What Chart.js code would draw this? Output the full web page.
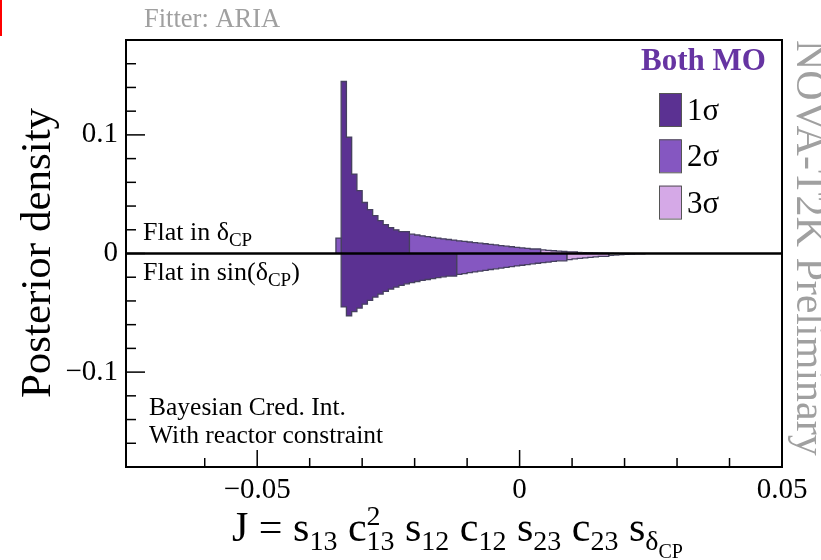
<!DOCTYPE html>
<html>
<head>
<meta charset="utf-8">
<script src="https://cdn.jsdelivr.net/npm/chart.js@4.4.0/dist/chart.umd.min.js"></script>
<style>
  html, body { margin: 0; padding: 0; background: #fff; }
  #wrap { position: relative; width: 821px; height: 560px; }
</style>
</head>
<body>
<div id="wrap"><canvas id="chart" width="821" height="560"></canvas></div>
<script>
// bin left edges (bin width 0.001)
const binLow = [
  -0.035, -0.034, -0.033, -0.032, -0.031, -0.030, -0.029, -0.028, -0.027, -0.026,
  -0.025, -0.024, -0.023, -0.022, -0.021, -0.020, -0.019, -0.018, -0.017, -0.016,
  -0.015, -0.014, -0.013, -0.012, -0.011, -0.010, -0.009, -0.008, -0.007, -0.006,
  -0.005, -0.004, -0.003, -0.002, -0.001, 0.000, 0.001, 0.002, 0.003, 0.004,
  0.005, 0.006, 0.007, 0.008, 0.009, 0.010, 0.011, 0.012, 0.013, 0.014,
  0.015, 0.016, 0.017, 0.018, 0.019, 0.020, 0.021, 0.022, 0.023
];

// posterior density, prior flat in deltaCP (drawn upwards)
const flatInDeltaCP = [
  0.013, 0.098, 0.145, 0.098, 0.067, 0.053, 0.043, 0.037, 0.032, 0.0277,
  0.0244, 0.0218, 0.0200, 0.0184, 0.0171, 0.0163, 0.0156, 0.0149, 0.0142, 0.0136,
  0.0130, 0.0124, 0.0118, 0.0113, 0.0107, 0.0102, 0.0097, 0.0092, 0.0087, 0.0082,
  0.0077, 0.0072, 0.0067, 0.0062, 0.0057, 0.0052, 0.0047, 0.0043, 0.0038, 0.0034,
  0.0030, 0.0026, 0.0023, 0.0020, 0.0017, 0.0014, 0.0012, 0.0010, 0.0008, 0.0007,
  0.0006, 0.0005, 0.0004, 0.0003, 0.0002, 0.0001, 0, 0, 0
];

// posterior density, prior flat in sin(deltaCP) (drawn downwards)
const flatInSinDeltaCP = [
  0, -0.0197, -0.045, -0.0525, -0.049, -0.046, -0.0427, -0.0395, -0.0367, -0.0342,
  -0.0320, -0.0300, -0.0283, -0.0268, -0.0256, -0.0245, -0.0236, -0.0227, -0.0219, -0.0211,
  -0.0204, -0.0197, -0.0190, -0.0183, -0.0176, -0.0169, -0.0162, -0.0155, -0.0148, -0.0142,
  -0.0135, -0.0129, -0.0123, -0.0117, -0.0111, -0.0105, -0.0099, -0.0093, -0.0087, -0.0082,
  -0.0077, -0.0072, -0.0067, -0.0062, -0.0057, -0.0051, -0.0046, -0.0041, -0.0037, -0.0033,
  -0.0029, -0.0025, -0.0021, -0.0017, -0.0014, -0.0011, -0.0008, -0.0006, -0.0004
];

// credible interval regions (edges, and level of each region: 1,2,3 sigma, 0 = outside)
const upperEdges = [-0.035, -0.034, -0.021, 0.004, 0.011, 0.021];
const upperLevels = [2, 1, 2, 3, 0];
const lowerEdges = [-0.034, -0.012, 0.009, 0.017, 0.024];
const lowerLevels = [1, 2, 3, 0];

const legendLabels = ['1σ', '2σ', '3σ'];
const levelColors = ['rgba(0,0,0,0)', '#5b3192', '#8557c1', '#d5a9e7'];
const outline = '#46405f';
const serif = '"Liberation Serif", "Times New Roman", serif';

function regionDatasets(values, edges, levels) {
  const out = [];
  for (let r = 0; r < levels.length; r++) {
    const lo = edges[r], hi = edges[r + 1];
    const pts = [{ x: lo, y: 0 }];
    let last = 0;
    binLow.forEach((b, i) => {
      if (b >= lo - 1e-9 && b < hi - 1e-9) {
        pts.push({ x: b, y: values[i] });
        last = values[i];
      }
    });
    pts.push({ x: hi, y: last });
    pts.push({ x: hi, y: 0 });
    out.push({
      data: pts,
      stepped: 'after',
      fill: levels[r] ? 'origin' : false,
      backgroundColor: levelColors[levels[r]],
      borderColor: outline,
      borderWidth: levels[r] ? 1.3 : 1,
      pointRadius: 0,
      tension: 0
    });
  }
  return out;
}

function fmt(v) {
  if (Math.abs(v) < 1e-9) return '0';
  return (v < 0 ? '\u2212' : '') + String(Math.abs(v));
}

function drawRich(ctx, x, y, parts, size, sub) {
  parts.forEach(p => {
    if (typeof p === 'string') {
      ctx.font = size + 'px ' + serif;
      ctx.fillText(p, x, y);
      x += ctx.measureText(p).width;
    } else {
      ctx.font = sub + 'px ' + serif;
      let w = 0;
      if (p.sub) { ctx.fillText(p.sub, x, y + sub * 0.33); w = ctx.measureText(p.sub).width; }
      if (p.sup) { ctx.fillText(p.sup, x, y - size * 0.38); w = Math.max(w, ctx.measureText(p.sup).width); }
      if (p.subsub) {
        ctx.font = Math.round(sub * 0.72) + 'px ' + serif;
        ctx.fillText(p.subsub, x, y + sub * 0.62);
        w = ctx.measureText(p.subsub).width;
      }
      x += w;
    }
  });
}

const decor = {
  id: 'decor',
  afterDatasetsDraw(chart) {
    const { ctx, chartArea: a, scales: { x, y } } = chart;
    ctx.save();
    ctx.strokeStyle = '#000';
    const seg = (x1, y1, x2, y2) => { ctx.beginPath(); ctx.moveTo(x1, y1); ctx.lineTo(x2, y2); ctx.stroke(); };

    // zero line
    const y0 = y.getPixelForValue(0);
    ctx.lineWidth = 2.5;
    seg(a.left, y0, a.right, y0);

    // frame
    ctx.lineWidth = 2;
    ctx.strokeRect(a.left, a.top, a.right - a.left, a.bottom - a.top);

    // inward ticks
    ctx.lineWidth = 1.5;
    x.ticks.forEach(t => {
      const k = Math.round(t.value * 100);
      if (Math.abs(t.value * 100 - k) > 1e-6) return;
      const px = x.getPixelForValue(t.value);
      seg(px, a.bottom, px, a.bottom - (k % 5 === 0 ? 17 : 9));
    });
    y.ticks.forEach(t => {
      const k = Math.round(t.value * 50);
      if (Math.abs(t.value * 50 - k) > 1e-6) return;
      const py = y.getPixelForValue(t.value);
      seg(a.left, py, a.left + (k % 5 === 0 ? 19 : 10), py);
    });

    ctx.fillStyle = '#000';
    ctx.textBaseline = 'alphabetic';
    ctx.textAlign = 'left';

    // prior labels
    drawRich(ctx, 143, 240, ['Flat in \u03b4', { sub: 'CP' }], 26, 19);
    drawRich(ctx, 143, 280, ['Flat in sin(\u03b4', { sub: 'CP' }, ')'], 26, 19);

    ctx.font = '25.5px ' + serif;
    ctx.fillText('Bayesian Cred. Int.', 149, 415);
    ctx.fillText('With reactor constraint', 149, 443);

    // legend
    ctx.font = 'bold 31px ' + serif;
    ctx.fillStyle = '#6634a2';
    ctx.fillText('Both MO', 641, 70);
    legendLabels.forEach((lab, i) => {
      const top = 93 + i * 46.3;
      ctx.fillStyle = levelColors[i + 1];
      ctx.fillRect(659, top, 22, 33);
      ctx.strokeStyle = '#555';
      ctx.lineWidth = 1;
      ctx.strokeRect(659.5, top + 0.5, 22, 33);
      ctx.fillStyle = '#000';
      ctx.font = '31px ' + serif;
      ctx.fillText(lab, 687, top + 27);
    });

    // axis titles
    ctx.fillStyle = '#000';
    drawRich(ctx, 232, 541, ['J = s', { sub: '13' }, ' c', { sup: '2', sub: '13' }, ' s', { sub: '12' }, ' c', { sub: '12' },
      ' s', { sub: '23' }, ' c', { sub: '23' }, ' s', { sub: '\u03b4' }, { subsub: 'CP' }], 42, 28);

    ctx.save();
    ctx.translate(50, 253);
    ctx.rotate(-Math.PI / 2);
    ctx.textAlign = 'center';
    ctx.font = '43px ' + serif;
    ctx.fillText('Posterior density', 0, 0);
    ctx.restore();

    // fitter and watermark
    ctx.fillStyle = '#a0a0a0';
    ctx.font = '26.5px ' + serif;
    ctx.fillText('Fitter: ARIA', 144, 27);

    ctx.save();
    ctx.translate(797, 40);
    ctx.rotate(Math.PI / 2);
    ctx.font = '42px ' + serif;
    ctx.fillText('NOVA-T2K Preliminary', 0, 0);
    ctx.restore();

    ctx.fillStyle = '#ff0000';
    ctx.fillRect(0, 0, 2, 36);
    ctx.restore();
  }
};

new Chart(document.getElementById('chart'), {
  type: 'line',
  data: {
    datasets: [
      ...regionDatasets(flatInDeltaCP, upperEdges, upperLevels),
      ...regionDatasets(flatInSinDeltaCP, lowerEdges, lowerLevels)
    ]
  },
  options: {
    responsive: false,
    animation: false,
    layout: { padding: { top: 40, right: 39, left: 0, bottom: 0 } },
    plugins: { legend: { display: false }, tooltip: { enabled: false } },
    scales: {
      x: {
        type: 'linear',
        min: -0.075,
        max: 0.05,
        grid: { display: false, drawTicks: false },
        border: { display: false },
        afterFit: s => { s.height = 93; },
        ticks: {
          stepSize: 0.01,
          autoSkip: false,
          maxRotation: 0,
          padding: 6,
          color: '#000',
          font: { family: serif, size: 29 },
          callback: v => {
            const k = Math.round(v * 20);
            return Math.abs(v * 20 - k) < 1e-6 ? fmt(k / 20) : '';
          }
        }
      },
      y: {
        min: -0.18,
        max: 0.18,
        grid: { display: false, drawTicks: false },
        border: { display: false },
        afterFit: s => { s.width = 126; },
        ticks: {
          stepSize: 0.02,
          autoSkip: false,
          padding: 8,
          color: '#000',
          font: { family: serif, size: 29 },
          callback: v => {
            const k = Math.round(v * 10);
            return Math.abs(v * 10 - k) < 1e-6 ? fmt(k / 10) : '';
          }
        }
      }
    }
  },
  plugins: [decor]
});
</script>
</body>
</html>
